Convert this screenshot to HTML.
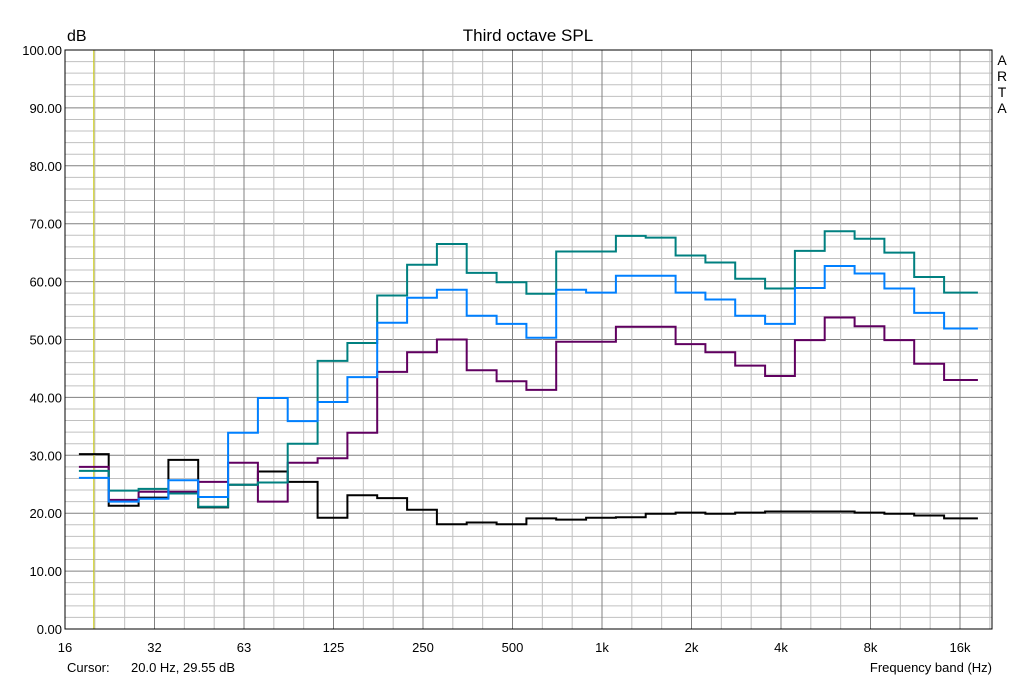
<!DOCTYPE html>
<html><head><meta charset="utf-8"><style>
html,body{margin:0;padding:0;background:#fff;}
svg{display:block;font-family:"Liberation Sans",sans-serif;}
</style></head><body>
<svg id="chart" width="1029" height="686" viewBox="0 0 1029 686" xmlns="http://www.w3.org/2000/svg">
<rect x="0" y="0" width="1029" height="686" fill="#fff"/>
<g id="grid"></g>
<g id="series"></g>
<g id="axes"></g>
<text x="67" y="41" font-size="16">dB</text>
<text x="528" y="41" font-size="17" text-anchor="middle">Third octave SPL</text>
<g font-size="14" text-anchor="middle">
<text x="1002" y="65">A</text><text x="1002" y="81">R</text><text x="1002" y="97">T</text><text x="1002" y="113">A</text>
</g>
<text x="67" y="672" font-size="13">Cursor:</text>
<text x="131" y="672" font-size="13">20.0 Hz, 29.55 dB</text>
<text x="992" y="672" font-size="13" text-anchor="end">Frequency band (Hz)</text>
</svg>
<script>
const xTickLabels = ["16","32","63","125","250","500","1k","2k","4k","8k","16k"];
const yTickValues = [0,10,20,30,40,50,60,70,80,90,100];
const tealValues = [27.3,23.9,24.2,23.4,21.1,24.9,25.3,32.0,46.3,49.4,57.6,62.9,66.5,61.5,59.9,57.9,65.2,65.2,67.9,67.6,64.5,63.3,60.5,58.8,65.3,68.7,67.4,65.0,60.8,58.1];
const blueValues = [26.1,22.0,22.5,25.7,22.8,33.9,39.9,35.9,39.2,43.5,52.9,57.2,58.6,54.1,52.7,50.3,58.6,58.1,61.0,61.0,58.1,56.9,54.1,52.7,58.9,62.7,61.4,58.8,54.6,51.9];
const purpleValues = [28.0,22.3,23.7,23.7,25.4,28.7,22.0,28.7,29.5,33.9,44.4,47.8,50.0,44.7,42.8,41.3,49.6,49.6,52.2,52.2,49.2,47.8,45.5,43.7,49.9,53.8,52.3,49.9,45.8,43.0];
const blackValues = [30.2,21.3,22.7,29.2,21.0,24.9,27.2,25.4,19.2,23.1,22.6,20.6,18.1,18.4,18.1,19.1,18.9,19.2,19.3,19.9,20.1,19.9,20.1,20.3,20.3,20.3,20.1,19.9,19.6,19.1];

const NS="http://www.w3.org/2000/svg";
const X0=65,X1=992,Y0=50,Y1=629;
const OCT=89.5, THIRD=OCT/3;
const xOct=o=>X0+o*OCT;
const xBand=i=>X0+OCT*Math.log2(20/16)+i*THIRD;
const yv=v=>Y1-(v/100)*(Y1-Y0);
function mk(tag,attrs,parent){const e=document.createElementNS(NS,tag);for(const k in attrs)e.setAttribute(k,attrs[k]);parent.appendChild(e);return e;}
const grid=document.getElementById('grid'),axes=document.getElementById('axes'),ser=document.getElementById('series');
for(let v=0;v<=100;v+=2){
  const l=mk('line',{x1:X0,x2:X1,y1:yv(v),y2:yv(v),stroke:v%10===0?'#808080':'#c0c0c0','stroke-width':1},grid);
  
  
}
for(let k=1;k*THIRD+X0<X1;k++){
  const x=X0+k*THIRD;
  const l=mk('line',{x1:x,x2:x,y1:Y0,y2:Y1,stroke:k%3===0?'#808080':'#c0c0c0','stroke-width':1},grid);
  
  
}
const cur=mk('line',{x1:xBand(0),x2:xBand(0),y1:Y0,y2:Y1,stroke:'#c8c800','stroke-width':1},grid);


const fr=mk('rect',{x:X0,y:Y0,width:X1-X0,height:Y1-Y0,fill:'none',stroke:'#000','stroke-width':1},axes);


yTickValues.forEach(v=>{
  const t=mk('text',{x:62,y:yv(v)+5,'font-size':13,'text-anchor':'end'},axes);
  t.textContent=v.toFixed(2);
  
  
});
xTickLabels.forEach((s,i)=>{
  const t=mk('text',{x:xOct(i),y:652,'font-size':13,'text-anchor':'middle'},axes);
  t.textContent=s;
  
  
});
function stepPath(vals){
  let d='';
  vals.forEach((v,i)=>{
    const a=xBand(i)-THIRD/2, b=xBand(i)+THIRD/2+(i===vals.length-1?4:0), y=yv(v);
    d+=(i===0?'M':'L')+a.toFixed(1)+' '+y.toFixed(1)+' L'+b.toFixed(1)+' '+y.toFixed(1)+' ';
  });
  return d;
}
[[blackValues,'#000000','series-black'],[purpleValues,'#600060','series-purple'],[tealValues,'#008080','series-teal'],[blueValues,'#0080ff','series-blue']].forEach(([vals,c,n])=>{
  const p=mk('path',{d:stepPath(vals),fill:'none',stroke:c,'stroke-width':2},ser);
  
  
});
</script>
</body></html>
